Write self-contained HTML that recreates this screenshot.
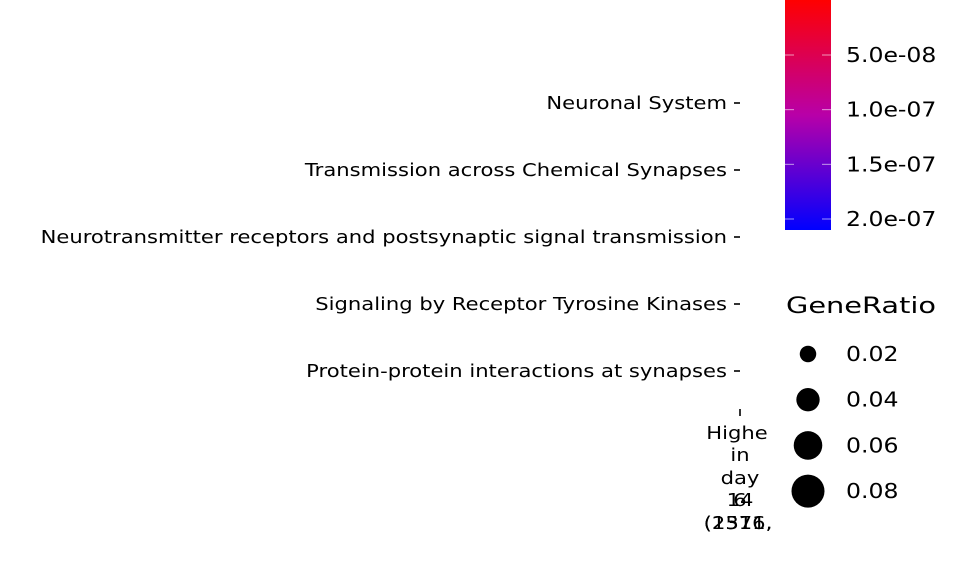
<!DOCTYPE html>
<html><head><meta charset="utf-8"><style>
html,body{margin:0;padding:0;background:#fff;}
svg{display:block;font-family:"DejaVu Sans","Liberation Sans",sans-serif;}
</style></head><body>
<svg id="chart" width="960" height="576" viewBox="0 0 960 576">
<defs><linearGradient id="cg" x1="0" y1="1" x2="0" y2="0">
<stop offset="0" stop-color="#0000ff"/><stop offset="0.5" stop-color="#b800a8"/><stop offset="1" stop-color="#ff0000"/></linearGradient></defs>
<g id="yaxis"></g>
<g id="xaxis">
<line x1="740" y1="409" x2="740" y2="416" stroke="#333" stroke-width="2"/>
<g font-size="18" fill="#000" text-anchor="middle">
<text class="w" x="737" y="439">Highe</text><text class="w" x="740" y="461">in</text><text class="w" x="740" y="484">day</text>
<text class="w" x="740" y="506">14</text><text class="w" x="740" y="506">6</text>
<text class="w" x="738" y="529">(2571,</text><text class="w" x="738" y="529">(1316,</text></g></g>
<g>
<rect x="785" y="0" width="46" height="230" fill="url(#cg)"/>
<g id="cticks"></g></g>
<g>
<text id="stitle" x="786" y="313" font-size="22">GeneRatio</text>
<g id="sizes"></g></g>
</svg>
<script>
const categories=["Neuronal System","Transmission across Chemical Synapses","Neurotransmitter receptors and postsynaptic signal transmission","Signaling by Receptor Tyrosine Kinases","Protein-protein interactions at synapses"];
const colorTicks=["5.0e-08","1.0e-07","1.5e-07","2.0e-07"];
const colorTickValues=[5e-8,1e-7,1.5e-7,2e-7];
const sizeLabels=["0.02","0.04","0.06","0.08"];
const sizeValues=[0.02,0.04,0.06,0.08];
const NS="http://www.w3.org/2000/svg";
function mk(t,a,p){const e=document.createElementNS(NS,t);for(const k in a)e.setAttribute(k,a[k]);p.appendChild(e);return e;}
const y=i=>103+i*67;
const ya=document.getElementById('yaxis');
categories.forEach((c,i)=>{
 const l=mk('line',{x1:734,x2:740,y1:y(i),y2:y(i),stroke:'#333','stroke-width':2},ya);
 
 
 const t=mk('text',{x:727,y:y(i)+6,'text-anchor':'end','font-size':'18',fill:'#000','class':'w'},ya);
 t.textContent=c;
 
 
});
const cy=v=>55+(v-5e-8)/(1.5e-7)*164;
const ct=document.getElementById('cticks');
colorTickValues.forEach((v,i)=>{
 mk('line',{x1:785,x2:794,y1:cy(v),y2:cy(v),stroke:'#fff','stroke-opacity':0.6,'stroke-width':1},ct);
 mk('line',{x1:822,x2:831,y1:cy(v),y2:cy(v),stroke:'#fff','stroke-opacity':0.6,'stroke-width':1},ct);
 const t=mk('text',{x:846,y:cy(v)+7,'font-size':'20',fill:'#000','class':'w'},ct);
 t.textContent=colorTicks[i];
 
 
});
const sz=document.getElementById('sizes');
const r=v=>Math.sqrt(v/0.08)*16.5;
sizeValues.forEach((v,i)=>{
 const yy=354+i*45.7;
 const c=mk('circle',{cx:808,cy:yy,r:r(v),fill:'#000'},sz);
 
 
 const t=mk('text',{x:846,y:yy+7,'font-size':'20',fill:'#000','class':'w'},sz);
 t.textContent=sizeLabels[i];
 
 
});
// widen text to match reference glyph widths
document.querySelectorAll('text.w').forEach(t=>{
 const w=t.getComputedTextLength();
 const fs=parseFloat(t.getAttribute('font-size')||t.parentNode.getAttribute('font-size'));
 t.setAttribute('textLength',(w*1.24*(fs===18?17/18:fs===20?19/20:1)).toFixed(1));
 t.setAttribute('lengthAdjust','spacingAndGlyphs');
});
const st=document.getElementById('stitle');
st.setAttribute('textLength','150');
st.setAttribute('lengthAdjust','spacingAndGlyphs');
</script>
</body></html>
